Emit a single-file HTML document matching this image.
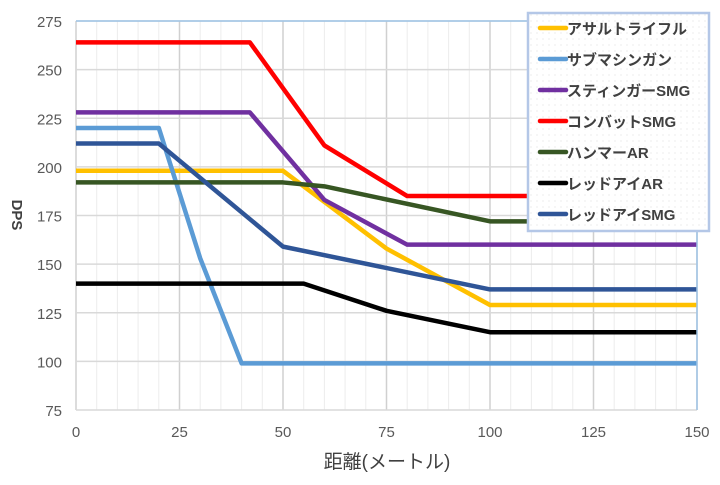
<!DOCTYPE html>
<html><head><meta charset="utf-8"><style>
body{margin:0;background:#fff;width:720px;height:480px;overflow:hidden;font-family:"Liberation Sans","Noto Sans CJK JP",sans-serif}
</style></head><body>
<svg id="chart" width="720" height="480" xmlns="http://www.w3.org/2000/svg">
<g id="grid"></g><g id="series"></g><g id="axes"></g>
<text x="387" y="468" text-anchor="middle" font-size="19" fill="#404040" font-family="Liberation Sans,Noto Sans CJK JP,sans-serif">距離(メートル)</text>
<text transform="translate(12,215) rotate(90)" text-anchor="middle" font-size="15" font-weight="bold" fill="#404040">DPS</text>
<g id="legend"></g>
</svg>
<script>
const xTicks=[0,25,50,75,100,125,150];
const yTicks=[75,100,125,150,175,200,225,250,275];
const seriesNames=["アサルトライフル","サブマシンガン","スティンガーSMG","コンバットSMG","ハンマーAR","レッドアイAR","レッドアイSMG"];
const arX=[0,50,75,100,150], arY=[198,198,158,129,129];
const smgX=[0,20,30,40,150], smgY=[220,220,153,99,99];
const stingerX=[0,42,60,80,150], stingerY=[228,228,183,160,160];
const combatX=[0,42,60,80,150], combatY=[264,264,211,185,185];
const hammerX=[0,50,60,100,150], hammerY=[192,192,190,172,172];
const redArX=[0,55,75,100,150], redArY=[140,140,126,115,115];
const redSmgX=[0,20,50,100,150], redSmgY=[212,212,159,137,137];
const colors=["#ffc000","#5b9bd5","#7030a0","#ff0000","#375623","#000000","#2f5597"];
const X=v=>76+v/150*621, Y=v=>410-(v-75)/200*389;
const NS="http://www.w3.org/2000/svg";
function mk(tag,attrs,parent){const e=document.createElementNS(NS,tag);for(const k in attrs)e.setAttribute(k,attrs[k]);parent.appendChild(e);return e;}
const grid=document.getElementById('grid'),axes=document.getElementById('axes'),ser=document.getElementById('series'),leg=document.getElementById('legend');
for(let v=0;v<=150;v+=5){const major=v%25===0;
const l=mk('line',{x1:X(v),x2:X(v),y1:Y(275),y2:Y(75),stroke:major?'#d0d0d0':'#ececec','stroke-width':major?1.5:1},grid);

}
yTicks.forEach(v=>{const l=mk('line',{x1:X(0),x2:X(150),y1:Y(v),y2:Y(v),stroke:'#d9d9d9','stroke-width':1.5},grid);


const t=mk('text',{x:62,y:Y(v)+6,'text-anchor':'end','font-size':15,fill:'#595959'},axes);t.textContent=v;

});
xTicks.forEach(v=>{const t=mk('text',{x:X(v),y:437,'text-anchor':'middle','font-size':15,fill:'#595959'},axes);t.textContent=v;

});
const topBorder=mk('line',{x1:X(0),x2:X(150),y1:Y(275),y2:Y(275),stroke:'#9dc3e6','stroke-width':1.5},axes);


const rightBorder=mk('line',{x1:X(150),x2:X(150),y1:Y(275),y2:Y(75),stroke:'#9dc3e6','stroke-width':1.5},axes);


const allX=[arX,smgX,stingerX,combatX,hammerX,redArX,redSmgX],allY=[arY,smgY,stingerY,combatY,hammerY,redArY,redSmgY];
const keys=["assault-rifle","submachine-gun","stinger-smg","combat-smg","hammer-ar","redeye-ar","redeye-smg"];
allX.forEach((xs,i)=>{const pts=xs.map((x,j)=>X(x)+','+Y(allY[i][j])).join(' ');
const p=mk('polyline',{points:pts,fill:'none',stroke:colors[i],'stroke-width':4.5,'stroke-linejoin':'round'},ser);

});
const pat=mk('pattern',{id:'dots',width:6,height:6,patternUnits:'userSpaceOnUse'},leg);
mk('rect',{width:6,height:6,fill:'#fff'},pat);mk('circle',{cx:3,cy:3,r:0.5,fill:'#cfcfcf'},pat);
const box=mk('rect',{x:528,y:13,width:181,height:218,fill:'url(#dots)',stroke:'#b4c7e7','stroke-width':2.5},leg);


seriesNames.forEach((n,i)=>{const y=28+i*31;
const l=mk('line',{x1:540,x2:566,y1:y,y2:y,stroke:colors[i],'stroke-width':4.5,'stroke-linecap':'round'},leg);


const t=mk('text',{x:567,y:y+6,'font-size':15,fill:'#404040','font-weight':'bold'},leg);t.textContent=n;

});
</script>
</body></html>
